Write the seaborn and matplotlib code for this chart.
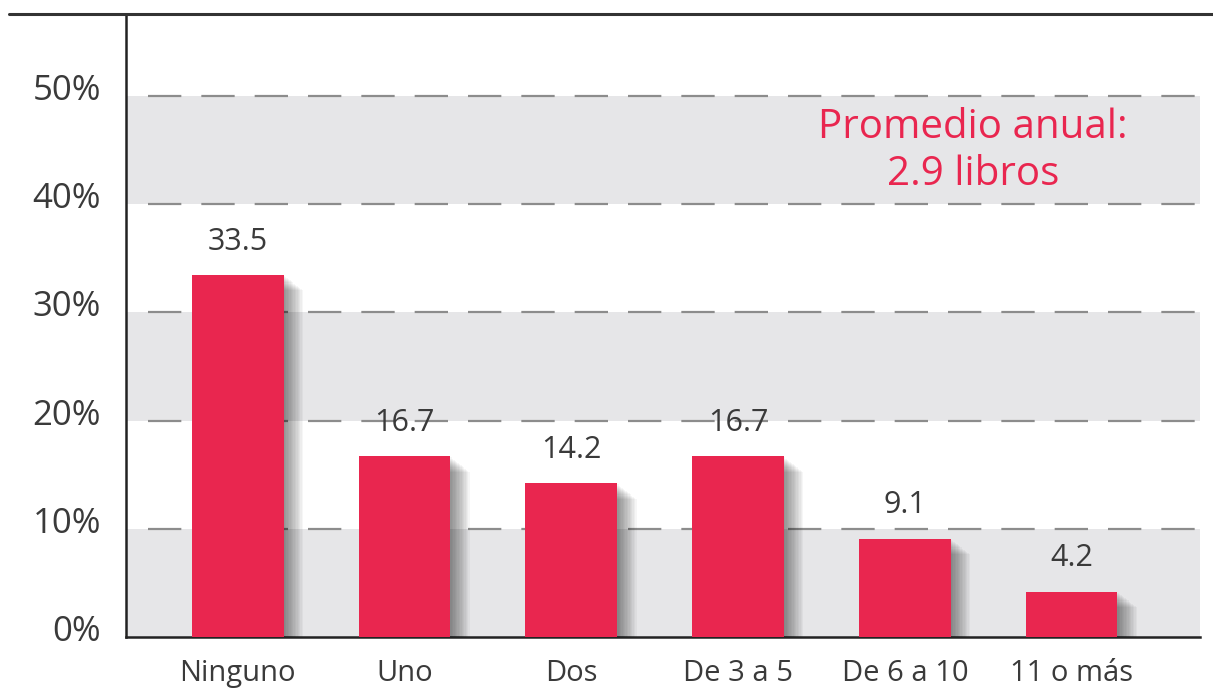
import numpy as np
import pandas as pd
import matplotlib.pyplot as plt
import matplotlib.patheffects as pe
import matplotlib.transforms as mtransforms
from matplotlib.lines import Line2D
import seaborn as sns

categorias = ['Ninguno', 'Uno', 'Dos', 'De 3 a 5', 'De 6 a 10', '11 o más']
porcentajes = [33.5, 16.7, 14.2, 16.7, 9.1, 4.2]
yticks = [0, 10, 20, 30, 40, 50]
ytick_labels = ['0%', '10%', '20%', '30%', '40%', '50%']
nota = 'Promedio anual:\n2.9 libros'

rojo = '#E9264F'
gris_banda = '#E6E6E8'
gris_linea = '#8C8C8C'
texto = '#3A3A3A'

sns.set_style('white')
plt.rcParams['font.family'] = ['Open Sans', 'DejaVu Sans']

df = pd.DataFrame({'cat': categorias, 'pct': porcentajes})

fig = plt.figure(figsize=(12.13, 6.95), dpi=100)
ax = fig.add_axes([0.1039, 0.0835, 0.8854, 0.8964])

# bandas grises alternas
for lo in [0, 20, 40]:
    ax.axhspan(lo, lo + 10, color=gris_banda, zorder=0, lw=0)
for y in yticks[1:]:
    ax.axhline(y, xmin=0.02, color=gris_linea, lw=1.6, ls=(0, (15, 9)), zorder=1)

sns.barplot(data=df, x='cat', y='pct', color=rojo, saturation=1, width=0.55,
            linewidth=0, ax=ax, zorder=3)

# sombra difusa de las barras
sombra = [pe.SimplePatchShadow(offset=(o, -o * 0.8), shadow_rgbFace='black', alpha=0.035)
          for o in range(14, 0, -1)] + [pe.Normal()]
for p in ax.containers[0]:
    p.set_path_effects(sombra)

for i, v in enumerate(porcentajes):
    ax.annotate(f'{v}', (i, v), xytext=(0, 13), textcoords='offset points',
                ha='center', va='bottom', fontsize=22, color=texto)

ax.text(4.41, 44.9, nota, ha='center', va='center', fontsize=29,
        color=rojo, linespacing=1.2)

ax.set_xlim(-0.67, 5.77)
ax.set_ylim(0, 57.6)
ax.set_yticks(yticks)
ax.set_yticklabels(ytick_labels)
ax.set_xlabel('')
ax.set_ylabel('')
ax.tick_params(axis='y', length=0, pad=18, labelsize=25, labelcolor=texto)
ax.tick_params(axis='x', length=0, pad=16, labelsize=21, labelcolor=texto)

# etiquetas del eje y un poco por encima de la linea
subir = mtransforms.ScaledTranslation(0, 0.09, fig.dpi_scale_trans)
for lab in ax.get_yticklabels():
    lab.set_transform(lab.get_transform() + subir)

for s in ['top', 'right']:
    ax.spines[s].set_visible(False)
ax.spines['left'].set_color('#222222')
ax.spines['bottom'].set_color('#222222')
ax.spines['left'].set_linewidth(1.8)
ax.spines['bottom'].set_linewidth(1.8)

# linea superior que cruza toda la figura
fig.add_artist(Line2D([0.0075, 1.0], [0.98, 0.98], color='#333333', lw=2.2,
                      transform=fig.transFigure))

fig.savefig('out.png', dpi=100)
